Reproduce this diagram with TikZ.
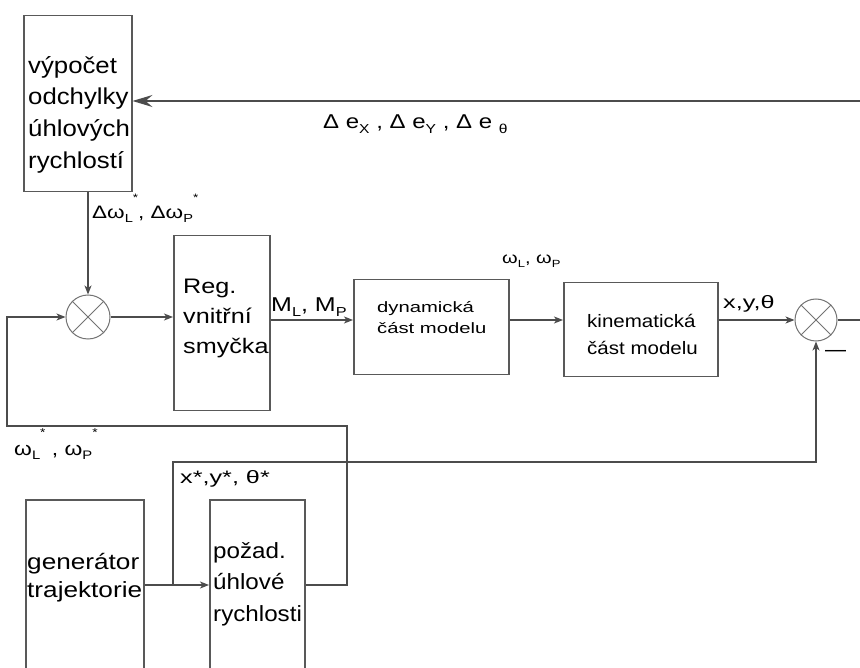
\documentclass[tikz,border=0pt]{standalone}
\usepackage{fontspec}
\usepackage{graphicx}
\setmainfont{Liberation Sans}
\usetikzlibrary{arrows.meta}
\newcommand\mysub[1]{\raisebox{-0.22em}{\scalebox{0.65}{#1}}}
\newcommand\mysup[1]{\raisebox{0.95em}{\scalebox{0.6}{#1}}}
\newcommand\fsz[3]{\fontsize{#1}{#2}\selectfont\addfontfeature{FakeStretch=#3}}
\begin{document}
\begin{tikzpicture}[x=1pt,y=-1pt,
  box/.style={draw=black!65, line width=1.5pt, inner sep=0pt, anchor=north west},
  txt/.style={inner sep=0pt, align=left, anchor=north west},
  lbl/.style={inner sep=0pt, anchor=base west},
  sum/.style={circle, draw=black!55, line width=1pt, minimum size=44pt, inner sep=0pt},
  wire/.style={draw=black!70, line width=1.2pt},
  arr/.style={wire, -{Stealth[length=9pt,width=7pt,inset=2.5pt]}},
  arrbig/.style={wire, -{Stealth[length=20pt,width=12pt,inset=7pt]}}]
\useasboundingbox (0,0) rectangle (860,668);
\clip (0,0) rectangle (860,668);
\fill[white] (0,0) rectangle (860,668);

% boxes
\node[box, minimum width=108pt, minimum height=176pt] (b1) at (23,15) {};
\node[box, minimum width=96pt, minimum height=175pt] (reg) at (173,235) {};
\node[box, minimum width=155pt, minimum height=95pt] (dyn) at (353,279) {};
\node[box, minimum width=154pt, minimum height=94pt] (kin) at (563,282) {};
\node[box, minimum width=118pt, minimum height=200pt] (gen) at (25,499) {};
\node[box, minimum width=95pt, minimum height=200pt] (poz) at (209,499) {};

% box texts
\node[txt, font=\fsz{23}{31.7}{1.12}] (t1) at (28,50) {\rule{0pt}{23pt}výpočet\\odchylky\\úhlových\\rychlostí};
\node[txt, font=\fsz{21}{30}{1.2}] (t2) at (183,272) {\rule{0pt}{21pt}Reg.\\vnitřní\\smyčka};
\node[txt, font=\fsz{15}{21}{1.35}] (t3) at (377,297) {\rule{0pt}{15pt}dynamická\\část modelu};
\node[txt, font=\fsz{18}{27}{1.14}] (t4) at (587,309) {\rule{0pt}{18pt}kinematická\\část modelu};
\node[txt, font=\fsz{22}{28}{1.19}] (t5) at (27,547) {\rule{0pt}{22pt}generátor\\trajektorie};
\node[txt, font=\fsz{22}{31.5}{1.1}] (t6) at (213,536) {\rule{0pt}{22pt}požad.\\úhlové\\rychlosti};

% summing junctions
\node[sum] (s1) at (88,317) {};
\node[sum, minimum size=42pt] (s2) at (816,320) {};
\foreach \s in {s1,s2}{
  \draw[draw=black!55, line width=0.9pt] (\s.north east) -- (\s.south west);
  \draw[draw=black!55, line width=0.9pt] (\s.north west) -- (\s.south east);
}

% coordinates
\coordinate (fbR) at (860,101);
\coordinate (m) at (0,320);
\coordinate (lb) at (7,426);
\coordinate (rb) at (347,426);
\coordinate (rb2) at (347,585);
\coordinate (g) at (0,585);
\coordinate (br) at (173,585);
\coordinate (tp) at (173,462);
\coordinate (outR) at (860,320);

% connectors
\draw[arrbig] (fbR) -- (fbR -| b1.east);
\draw[arr] (b1.south -| s1.north) -- (s1.north);
\draw[arr] (rb2 -| poz.east) -- (rb2) -- (rb) -- (lb) -- (lb |- s1.west) -- (s1.west);
\draw[arr] (s1.east) -- (s1.east -| reg.west);
\draw[arr] (m -| reg.east) -- (m -| dyn.west);
\draw[arr] (m -| dyn.east) -- (m -| kin.west);
\draw[arr] (m -| kin.east) -- (s2.west);
\draw[wire] (s2.east) -- (outR);
\draw[arr] (g -| gen.east) -- (g -| poz.west);
\draw[arr] (br) -- (tp) -- (tp -| s2.south) -- (s2.south);

% labels
\node[lbl, font=\fsz{20}{22}{1.2}] (lde) at (323,129) {Δ e\mysub{X} , Δ e\mysub{Y} , Δ e \mysub{θ}};
\node[lbl, font=\fsz{18}{20}{1.25}] (ldw) at (92,219) {Δω\mysub{L}\mysup{*}, Δω\mysub{P}\mysup{*}};
\node[lbl, font=\fsz{20}{22}{1.25}] (lm) at (271,312) {M\mysub{L}, M\mysub{P}};
\node[lbl, font=\fsz{16}{18}{1.25}] (lw) at (502,264) {ω\mysub{L}, ω\mysub{P}};
\node[lbl, font=\fsz{18}{19}{1.4}] (lxyt) at (723,309) {x,y,θ};
\node[lbl, font=\fsz{18}{20}{1.4}] (lxs) at (180,483) {x*,y*, θ*};
\node[lbl, font=\fsz{19}{19}{1.2}] (lws) at (14,455) {ω\mysub{L}\mysup{*} , ω\mysub{P}\mysup{*}};
\node[lbl, font=\fsz{21}{22}{1}] (lminus) at (825,357) {—};
\end{tikzpicture}
\end{document}
